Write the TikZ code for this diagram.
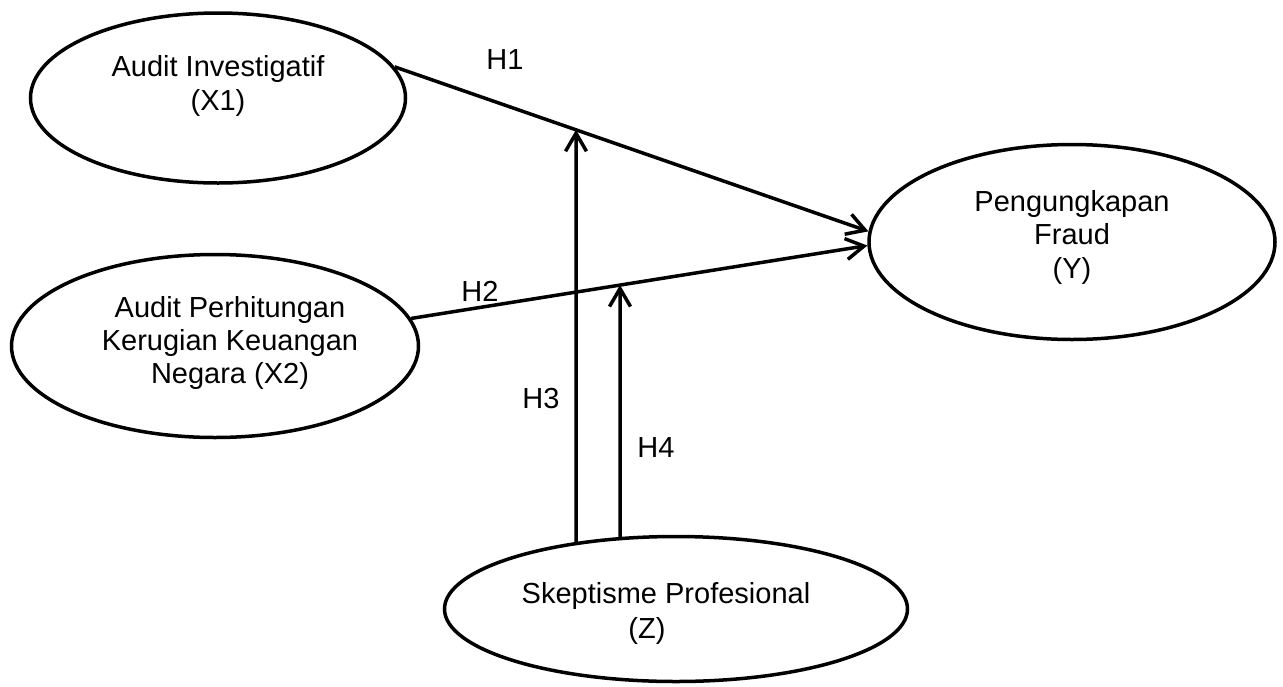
\documentclass[tikz,border=0pt]{standalone}
\usepackage{fontspec}
\setmainfont{Liberation Sans}
\usetikzlibrary{shapes.geometric,arrows.meta,intersections}
\begin{document}
\begin{tikzpicture}[x=1pt,y=-1pt,
  var/.style={draw, ellipse, line width=3.5pt, inner sep=0pt},
  lbl/.style={font=\fontsize{29}{33}\selectfont, anchor=base, inner sep=0pt},
  arr/.style={line width=3.5pt, -{Straight Barb[length=18pt,width=21pt]}}]
\useasboundingbox (0,0) rectangle (1283,686);
% ellipses
\node[var, minimum width=375pt, minimum height=170pt] (nx1) at (218,98) {};
\node[var, minimum width=407pt, minimum height=183pt] (nx2) at (215,346) {};
\node[var, minimum width=406pt, minimum height=195pt] (ny) at (1072,242) {};
\node[var, minimum width=463pt, minimum height=145pt, name path=zp] (nz) at (676,609) {};
% texts
\node[lbl] (tx1a) at (218,76) {Audit Investigatif};
\node[lbl] (tx1b) at (218,110) {(X1)};
\node[lbl] (tx2a) at (230,317) {Audit Perhitungan};
\node[lbl] (tx2b) at (230,350) {Kerugian Keuangan};
\node[lbl] (tx2c) at (230,383) {Negara (X2)};
\node[lbl] (tya) at (1072,211) {Pengungkapan};
\node[lbl] (tyb) at (1072,244) {Fraud};
\node[lbl] (tyc) at (1072,278) {(Y)};
\node[lbl] (tza) at (666,603) {Skeptisme Profesional};
\node[lbl] (tzb) at (647,638) {(Z)};
% hypothesis labels
\node[lbl] (h1) at (505,69) {H1};
\node[lbl] (h2) at (480,301) {H2};
\node[lbl] (h3) at (541,408) {H3};
\node[lbl] (h4) at (656,457) {H4};
% direct paths
\draw[arr, name path=l1] (nx1.10) -- (ny.177.5);
\draw[arr, name path=l2] (nx2.8.3) -- (ny.181.7);
% moderating paths
\coordinate (v3a) at (576,0);
\coordinate (v3b) at (576,686);
\coordinate (v4a) at (620,0);
\coordinate (v4b) at (620,686);
\path[name path=v3] (v3a) -- (v3b);
\path[name path=v4] (v4a) -- (v4b);
\path[name intersections={of=v3 and l1, by=h3t}];
\path[name intersections={of=v4 and l2, by=h4t}];
\path[name intersections={of=v3 and zp, sort by=v3, by={h3b}}];
\path[name intersections={of=v4 and zp, sort by=v4, by={h4b}}];
\draw[arr] (h3b) -- (h3t);
\draw[arr] (h4b) -- (h4t);
\end{tikzpicture}
\end{document}
